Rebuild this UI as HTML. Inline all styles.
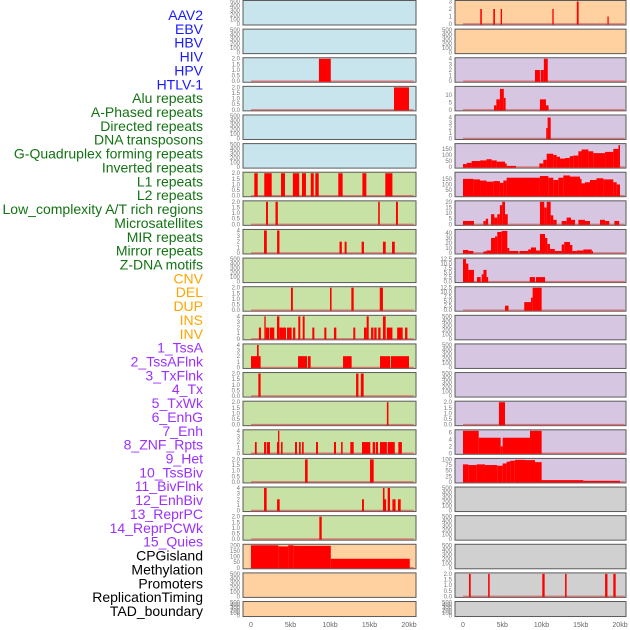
<!DOCTYPE html>
<html><head><meta charset="utf-8"><style>
body{margin:0;background:#fff;width:630px;height:630px;overflow:hidden}
svg{display:block}
.lbl{font-family:"Liberation Sans",sans-serif;font-size:14px}
.tk{font-family:"Liberation Sans",sans-serif;font-size:6px;fill:#777}
.ax{font-family:"Liberation Sans",sans-serif;font-size:7px;fill:#666}
</style></head><body>
<svg id="chart" width="630" height="630" xmlns="http://www.w3.org/2000/svg"></svg>
<script>
const labelNames=["AAV2","EBV","HBV","HIV","HPV","HTLV-1","Alu repeats","A-Phased repeats","Directed repeats","DNA transposons","G-Quadruplex forming repeats","Inverted repeats","L1 repeats","L2 repeats","Low_complexity A/T rich regions","Microsatellites","MIR repeats","Mirror repeats","Z-DNA motifs","CNV","DEL","DUP","INS","INV","1_TssA","2_TssAFlnk","3_TxFlnk","4_Tx","5_TxWk","6_EnhG","7_Enh","8_ZNF_Rpts","9_Het","10_TssBiv","11_BivFlnk","12_EnhBiv","13_ReprPC","14_ReprPCWk","15_Quies","CPGisland","Methylation","Promoters","ReplicationTiming","TAD_boundary"];
const labelColors=[].concat(Array(6).fill("#1a1aff"),Array(13).fill("#137313"),Array(5).fill("#ffa500"),Array(15).fill("#9b30ff"),Array(5).fill("#000"));
const xTickKb=[0,5,10,15,20];
const xTickLabels=["0","5kb","10kb","15kb","20kb"];
const T500=["0","100","200","300","400","500"],T2=["0.0","0.5","1.0","1.5","2.0"],T4=["0","1","2","3","4"];
const leftBg=[0,0,0,0,0,0,1,1,1,1,1,1,1,1,1,1,1,1,1,2,2,2];
const rightBg=[2,2,3,3,3,3,3,3,3,3,3,3,3,3,3,3,3,4,4,4,4,4];
const bgColors=["#c8e4ec","#c8e2a6","#ffd0a0","#d6c6e2","#d0d0d0"];
const leftYmax=[500,500,2,2,500,500,2,2,4,500,2,4,4,2,2,4,2,4,2,200,500,500];
const leftTicks=[T500,T500,T2,T2,T500,T500,T2,T2,T4,T500,T2,T4,T4,T2,T2,T4,T2,T4,T2,["0","50","100","150","200"],T500,T500];
const rightYmax=[3,500,4,15,4.3,185,200,20,45,12.5,12.5,500,500,500,2,6.5,100,500,500,500,2,500];
const T125=["0.0","2.5","5.0","7.5","10.0","12.5"];
const rightTicks=[["0","1","2","3"],T500,T4,["0","5","10"],T4,["0","50","100","150"],["0","50","100","150"],["0","5","10","15","20"],["0","10","20","30","40"],T125,T125,T500,T500,T500,T2,["0","2","4","6"],["0","25","50","75","100"],T500,T500,T500,T2,T500];
const leftBars=[[],[],
[[8.6,10.1,2]],
[[18.1,20,2]],
[],[],
[[0.42,0.85,2],[1.68,2.62,2],[3.8,4.3,2],[5.3,6.1,2],[6.45,6.96,2],[7.56,7.94,2],[8.14,8.57,2],[11.05,11.6,2],[14.1,14.6,2],[17.0,17.9,2]],
[[1.9,2.15,2],[3.1,3.4,2],[16.1,16.3,2],[18.35,18.6,2]],
[[1.65,2.0,4],[3.3,3.6,4],[11.2,11.5,2],[11.85,12.1,2],[14.0,14.3,2],[16.7,17.05,2],[17.85,18.2,2]],
[],
[[5.06,5.3,2],[10.0,10.2,2],[12.7,13.0,2],[16.3,16.7,2]],
[[1.0,1.27,2],[1.69,1.86,4],[1.86,2.32,2],[2.4,2.95,2],[3.29,3.59,4],[3.59,4.43,2],[4.56,5.15,2],[5.32,5.61,2],[5.99,6.24,4],[6.54,6.79,4],[7.76,8.02,2],[9.28,9.54,2],[10.5,10.8,2],[12.95,13.2,2],[14.3,14.64,2],[14.64,14.9,4],[15.2,15.5,2],[15.6,15.9,2],[16.1,16.4,2],[16.7,17.05,4],[17.2,17.9,2],[18.5,19.2,2],[19.5,19.8,2]],
[[0,1.22,2],[0.76,0.97,4],[5.95,7.09,2],[7.2,7.55,2],[11.65,12.74,2],[16.33,17.6,2],[17.7,20.0,2]],
[[0.93,1.22,2],[13.3,13.6,2],[13.9,14.26,2]],
[[17.2,17.4,2]],
[[0.5,0.72,2],[1.65,1.9,2],[2.0,2.4,2],[3.29,3.54,2],[3.42,3.59,4],[3.8,4.0,2],[5.57,5.82,2],[6.08,6.29,2],[6.46,6.67,2],[8.23,8.48,2],[10.5,10.76,2],[11.4,11.6,2],[12.57,13.0,2],[14.05,15.1,2],[15.4,15.7,2],[15.8,16.08,2],[16.33,17.2,2],[17.3,18.2,2],[18.65,19.1,2]],
[[6.84,7.17,2],[15.06,15.53,2]],
[[1.65,1.98,4],[3.3,3.63,2],[14.05,14.3,2],[16.7,16.9,4],[16.9,17.1,2],[17.3,17.6,4],[17.9,18.3,2],[18.6,18.95,2]],
[[8.65,8.95,2]],
[[0,3.46,200],[3.46,4.7,190],[4.7,5.36,200],[5.36,10.1,195],[10.1,20.1,80]],
[],[]];
const rightBars=[
[[2.2,2.4,2],[3.86,4.07,2],[4.8,4.97,2],[11.38,11.55,2],[14.5,14.73,3],[18.4,18.56,1]],
[],
[[9.17,9.8,2],[9.9,10.3,2],[10.3,10.8,4]],
[[3.95,4.25,3],[4.25,4.7,7],[4.7,5.2,14],[5.2,5.43,8],[9.8,10.57,7],[10.57,10.9,3]],
[[10.6,10.78,2],[10.78,11.17,4]],
[[0,0.47,25],[0.47,1.1,35],[1.1,2.17,50],[2.17,3.0,55],[3.0,3.65,65],[3.65,4.3,55],[4.3,5.35,45],[5.35,5.56,30],[5.56,6.75,10],[9.72,10.23,30],[10.23,10.66,60],[10.66,11.5,110],[11.5,11.93,100],[11.93,12.36,85],[12.36,13.0,70],[13.0,13.6,75],[13.6,14.05,90],[14.05,14.7,95],[14.7,15.1,130],[15.1,15.97,145],[15.97,16.6,130],[16.6,18.1,115],[18.1,19.15,125],[19.15,19.8,150],[19.8,20.0,180]],
[[0,1.32,150],[1.32,2.17,145],[2.17,3.0,135],[3.0,3.86,125],[3.86,4.7,130],[4.7,5.14,115],[5.14,5.56,135],[5.56,9.8,160],[9.8,10.87,175],[10.87,11.5,160],[11.5,12.14,140],[12.14,12.78,160],[12.78,13.63,180],[13.63,14.9,170],[14.9,15.1,150],[15.1,15.54,110],[15.54,16.18,120],[16.18,17.0,140],[17.0,17.88,155],[17.88,19.15,145],[19.15,19.58,120],[19.58,20.0,100]],
[[0,1.4,3],[2.6,2.9,3],[2.9,3.2,5],[3.57,4.0,9],[4.0,4.37,6],[4.37,4.7,9],[4.7,5.0,17],[5.0,5.35,20],[5.35,5.7,9],[9.8,10.36,20],[10.36,10.66,15],[10.66,11.17,20],[11.17,11.5,8],[11.5,11.93,4],[12.57,13.2,3],[13.2,13.76,6],[13.76,14.27,4],[14.7,15.54,4],[15.54,16.18,3],[17.45,18.1,4],[18.1,18.64,3],[19.28,19.9,3]],
[[0,0.68,6],[0.68,1.32,4],[2.6,3.0,3],[3.0,3.57,5],[3.57,4.08,30],[4.08,4.37,33],[4.37,4.93,42],[4.93,5.65,44],[5.65,5.9,10],[5.9,7.05,4],[7.2,8.3,4],[8.3,8.66,7],[8.66,9.3,11],[9.3,9.8,5],[9.8,10.45,38],[10.45,10.74,30],[10.74,11.08,18],[11.08,11.7,8],[11.7,12.57,4],[12.57,12.9,17],[12.9,13.63,22],[13.63,13.93,16],[13.93,14.5,4],[14.5,15.33,5],[15.33,16.4,7],[16.4,16.55,4]],
[[0,0.38,12.5],[0.38,0.68,10],[0.68,1.4,6.5],[1.78,2.25,2.5],[2.38,2.6,4],[2.6,3.0,6.5],[3.0,3.2,2.5],[8.5,9.17,2.5],[9.3,10.45,2.5]],
[[5.35,5.8,2.5],[7.8,8.66,4.5],[8.66,8.87,7],[8.87,10.02,12.5]],
[],[],[],
[[4.58,5.35,2]],
[[0,2.0,6.5],[2.0,4.8,4.5],[4.8,5.05,2],[5.05,8.53,4.5],[8.53,10.02,6.5]],
[[0,0.68,78],[0.68,1.74,75],[1.74,2.8,78],[2.8,4.37,75],[4.37,5.05,72],[5.05,5.56,82],[5.56,6.0,90],[6.0,6.6,94],[6.6,7.9,98],[7.9,9.17,97],[9.17,10.02,88],[10.02,15.33,8],[15.33,20.0,5]],
[],[],[],
[[0.76,0.98,2],[3.2,3.4,2],[10.1,10.4,2],[13.0,13.2,2],[18.1,18.4,2],[19.15,19.45,2]],
[]];

const NS="http://www.w3.org/2000/svg";
const svg=document.getElementById('chart');
function mk(tag,attrs,parent){const e=document.createElementNS(NS,tag);for(const k in attrs)e.setAttribute(k,attrs[k]);(parent||svg).appendChild(e);return e;}
const ROW_PITCH=28.62;
const cols=[{x0:243,w:173,zero:251,pxkb:7.9,bars:leftBars,ymax:leftYmax,ticks:leftTicks,bg:leftBg,name:'left'},
            {x0:455,w:171,zero:463,pxkb:7.85,bars:rightBars,ymax:rightYmax,ticks:rightTicks,bg:rightBg,name:'right'}];

labelNames.forEach((t,i)=>{
  const e=mk('text',{x:203,y:15+i*13.86+5,'text-anchor':'end',class:'lbl',fill:labelColors[i]});
  e.textContent=t;
  
  
});

cols.forEach(c=>{
  const xs=kb=>c.zero+kb*c.pxkb;
  for(let r=0;r<22;r++){
    const rh=(r===21)?15:24.5;
    const top=0.5+r*ROW_PITCH, bot=top+rh-1;
    const g=mk('g',{});
    
    
    const rect=mk('rect',{x:c.x0,y:top,width:c.w,height:rh,fill:bgColors[c.bg[r]],stroke:'#5a5a5a','stroke-width':1},g);
    
    
    const ym=c.ymax[r];
    const ys=v=>bot-(v/ym)*(bot-top-1);
    const tk=c.ticks[r];
    tk.forEach(s=>{
      const t=mk('text',{x:c.x0-3,y:ys(parseFloat(s))+2,'text-anchor':'end',class:'tk'},g);
      t.textContent=s;
      
      
    });
    const bars=c.bars[r];
    if(bars.length){
      const bl=mk('line',{x1:xs(0),x2:xs(20.6),y1:bot,y2:bot,stroke:'#d86060','stroke-width':1.5,opacity:0.8},g);
      
      
    }
    bars.forEach(b=>{
      const y=ys(b[2]);
      const br=mk('rect',{x:xs(b[0]),y:y,width:Math.max(1.2,xs(b[1])-xs(b[0])),height:bot-y+0.5,fill:'#ff0000'},g);
      
      
    });
  }
  xTickKb.forEach((k,i)=>{
    const t=mk('text',{x:xs(k),y:627,'text-anchor':'middle',class:'ax'});
    t.textContent=xTickLabels[i];
    
    
  });
});
</script>
</body></html>
